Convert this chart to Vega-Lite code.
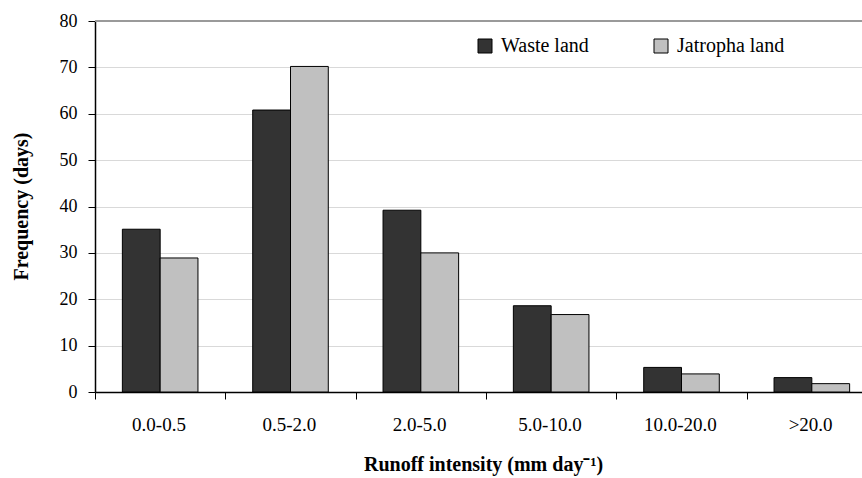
{
  "$schema": "https://vega.github.io/schema/vega-lite/v6.json",
  "width": 767,
  "height": 371,
  "autosize": {"type": "none"},
  "padding": {"left": 95, "top": 21, "right": 0, "bottom": 86},
  "background": "white",
  "config": {
    "view": {"stroke": null},
    "font": "Liberation Serif"
  },
  "data": {
    "values": [
      {"range": "0.0-0.5", "series": "Waste land", "days": 35.1},
      {"range": "0.0-0.5", "series": "Jatropha land", "days": 28.9},
      {"range": "0.5-2.0", "series": "Waste land", "days": 60.8},
      {"range": "0.5-2.0", "series": "Jatropha land", "days": 70.2},
      {"range": "2.0-5.0", "series": "Waste land", "days": 39.2},
      {"range": "2.0-5.0", "series": "Jatropha land", "days": 30.0},
      {"range": "5.0-10.0", "series": "Waste land", "days": 18.6},
      {"range": "5.0-10.0", "series": "Jatropha land", "days": 16.7},
      {"range": "10.0-20.0", "series": "Waste land", "days": 5.3},
      {"range": "10.0-20.0", "series": "Jatropha land", "days": 3.9},
      {"range": ">20.0", "series": "Waste land", "days": 3.1},
      {"range": ">20.0", "series": "Jatropha land", "days": 1.8}
    ]
  },
  "layer": [
    {
      "mark": {"type": "bar", "stroke": "#000000", "strokeWidth": 1},
      "encoding": {
        "x": {
          "field": "range",
          "type": "nominal",
          "sort": ["0.0-0.5", "0.5-2.0", "2.0-5.0", "5.0-10.0", "10.0-20.0", ">20.0"],
          "scale": {"range": [0, 782], "paddingInner": 0.42, "paddingOuter": 0.21},
          "axis": {
            "title": "Runoff intensity (mm day⁻¹)",
            "titleFont": "Liberation Serif",
            "titleFontSize": 20,
            "titleFontWeight": "bold",
            "titleColor": "#000000",
            "titleX": 388,
            "titleY": 78,
            "titleAlign": "center",
            "titleBaseline": "alphabetic",
            "labelAngle": 0,
            "labelFont": "Liberation Serif",
            "labelFontSize": 19,
            "labelColor": "#000000",
            "labelBaseline": "alphabetic",
            "labelPadding": 31,
            "tickOffset": -65.2,
            "labelOffset": 63.5,
            "tickSize": 7,
            "tickColor": "#000000",
            "domainColor": "#000000",
            "domainWidth": 1.5,
            "grid": false
          }
        },
        "xOffset": {
          "field": "series",
          "type": "nominal",
          "sort": ["Waste land", "Jatropha land"],
          "scale": {"paddingInner": 0, "paddingOuter": 0}
        },
        "y": {
          "field": "days",
          "type": "quantitative",
          "scale": {"domain": [0, 80]},
          "axis": {
            "title": "Frequency (days)",
            "titleFont": "Liberation Serif",
            "titleFontSize": 20,
            "titleFontWeight": "bold",
            "titleColor": "#000000",
            "titleAngle": -90,
            "titleX": -74,
            "titleY": 185,
            "titleAlign": "center",
            "titleBaseline": "middle",
            "values": [0, 10, 20, 30, 40, 50, 60, 70, 80],
            "labelFont": "Liberation Serif",
            "labelFontSize": 18,
            "labelColor": "#000000",
            "labelPadding": 11,
            "tickSize": 7,
            "tickColor": "#000000",
            "domainColor": "#000000",
            "domainWidth": 1.5,
            "grid": true,
            "gridColor": "#d9d9d9",
            "gridWidth": 1
          }
        },
        "color": {
          "field": "series",
          "type": "nominal",
          "sort": ["Waste land", "Jatropha land"],
          "scale": {"domain": ["Waste land", "Jatropha land"], "range": ["#333333", "#c0c0c0"]},
          "legend": {
            "title": null,
            "orient": "none",
            "direction": "horizontal",
            "legendX": 380,
            "legendY": 15,
            "padding": 0,
            "symbolType": "square",
            "symbolSize": 196,
            "symbolStrokeColor": "#000000",
            "symbolStrokeWidth": 1,
            "symbolOpacity": 1,
            "labelFont": "Liberation Serif",
            "labelFontSize": 20,
            "labelColor": "#000000",
            "labelOffset": 6,
            "columnPadding": 62
          }
        }
      }
    },
    {
      "mark": {"type": "rule", "color": "#9a9a9a", "strokeWidth": 1.5},
      "encoding": {"y": {"datum": 80}}
    }
  ]
}
